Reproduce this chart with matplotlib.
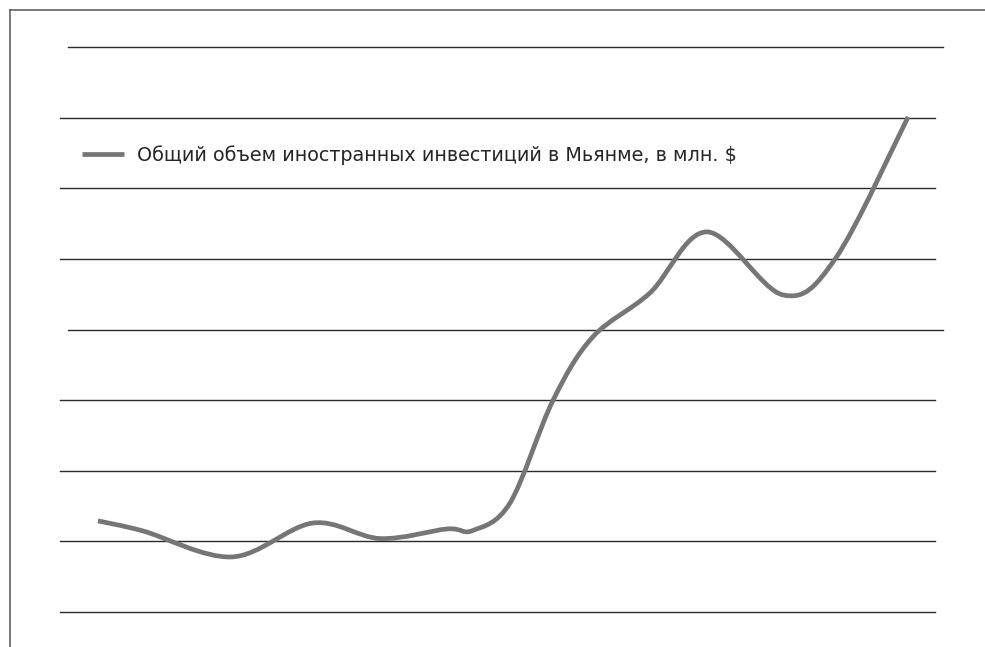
import numpy as np
import matplotlib
matplotlib.use("Agg")
import matplotlib.pyplot as plt
from matplotlib.path import Path
from matplotlib.patches import PathPatch
from matplotlib.lines import Line2D

# ── Data ──────────────────────────────────────────────────────────────────────
period = [0.0, 1.22, 3.64, 5.84, 7.66, 9.48, 10.18, 11.19, 12.36, 13.44,
          14.99, 16.54, 18.60, 20.02, 22.0]
invest = [6450, 5740, 3900, 6300, 5200, 5880, 5770, 7720, 15000, 19480,
          22590, 26910, 22450, 25000, 35050]
grid_values = [0, 5000, 10000, 15000, 20000, 25000, 30000, 35000, 40000]
long_lines = [20000, 40000]     # these two are shifted a bit to the right
label = "Общий объем иностранных инвестиций в Мьянме, в млн. $"

W, H, DPI = 985, 647, 100
plt.rcParams["font.family"] = ["DejaVu Sans"]


def smooth_path(xs, ys):
    """Excel-style smoothed line: cubic Bezier segments through every point."""
    pts = np.column_stack([xs, ys]).astype(float)
    n = len(pts)
    verts = [pts[0]]
    codes = [Path.MOVETO]
    for i in range(n - 1):
        p0 = pts[max(i - 1, 0)]
        p1 = pts[i]
        p2 = pts[i + 1]
        p3 = pts[min(i + 2, n - 1)]
        c1 = p1 + (p2 - p0) / 6.0
        c2 = p2 - (p3 - p1) / 6.0
        verts += [c1, c2, p2]
        codes += [Path.CURVE4] * 3
    return Path(verts, codes)


fig = plt.figure(figsize=(W / DPI, H / DPI), dpi=DPI)
ax = fig.add_axes([60 / W, 1 - 612 / H, 875 / W, 565 / H])
ax.set_xlim(-1.03, 22.73)
ax.set_ylim(0, 40000)
ax.axis("off")

# horizontal rules
for v in grid_values:
    if v in long_lines:
        ax.axhline(v, xmin=8 / 875, xmax=883 / 875, color="#2a2a2a",
                   linewidth=1.0, clip_on=False, zorder=1)
    else:
        ax.axhline(v, color="#2a2a2a", linewidth=1.0, clip_on=False, zorder=1)

# the series
curve_color = "#767676"
patch = PathPatch(smooth_path(period, invest), facecolor="none",
                  edgecolor=curve_color, linewidth=3.4, capstyle="butt",
                  joinstyle="round", zorder=3, clip_on=False)
ax.add_patch(patch)

handle = Line2D([], [], color=curve_color, linewidth=3.4, solid_capstyle="butt")
fig.legend([handle], [label], loc="center left", frameon=False,
           bbox_to_anchor=(82 / W, 1 - 155 / H), bbox_transform=fig.transFigure,
           borderpad=0, borderaxespad=0, handlelength=2.2, handletextpad=0.68,
           prop={"size": 13.8}, labelcolor="#262626")

# frame on the left and top edges of the picture
frame_kw = dict(color="#555555", linewidth=1.1, transform=fig.transFigure)
fig.add_artist(Line2D([9.5 / W, 9.5 / W], [0, 1 - 9.5 / H], **frame_kw))
fig.add_artist(Line2D([9.5 / W, 1], [1 - 9.5 / H, 1 - 9.5 / H], **frame_kw))

fig.savefig("out.png", dpi=DPI, facecolor="white")
